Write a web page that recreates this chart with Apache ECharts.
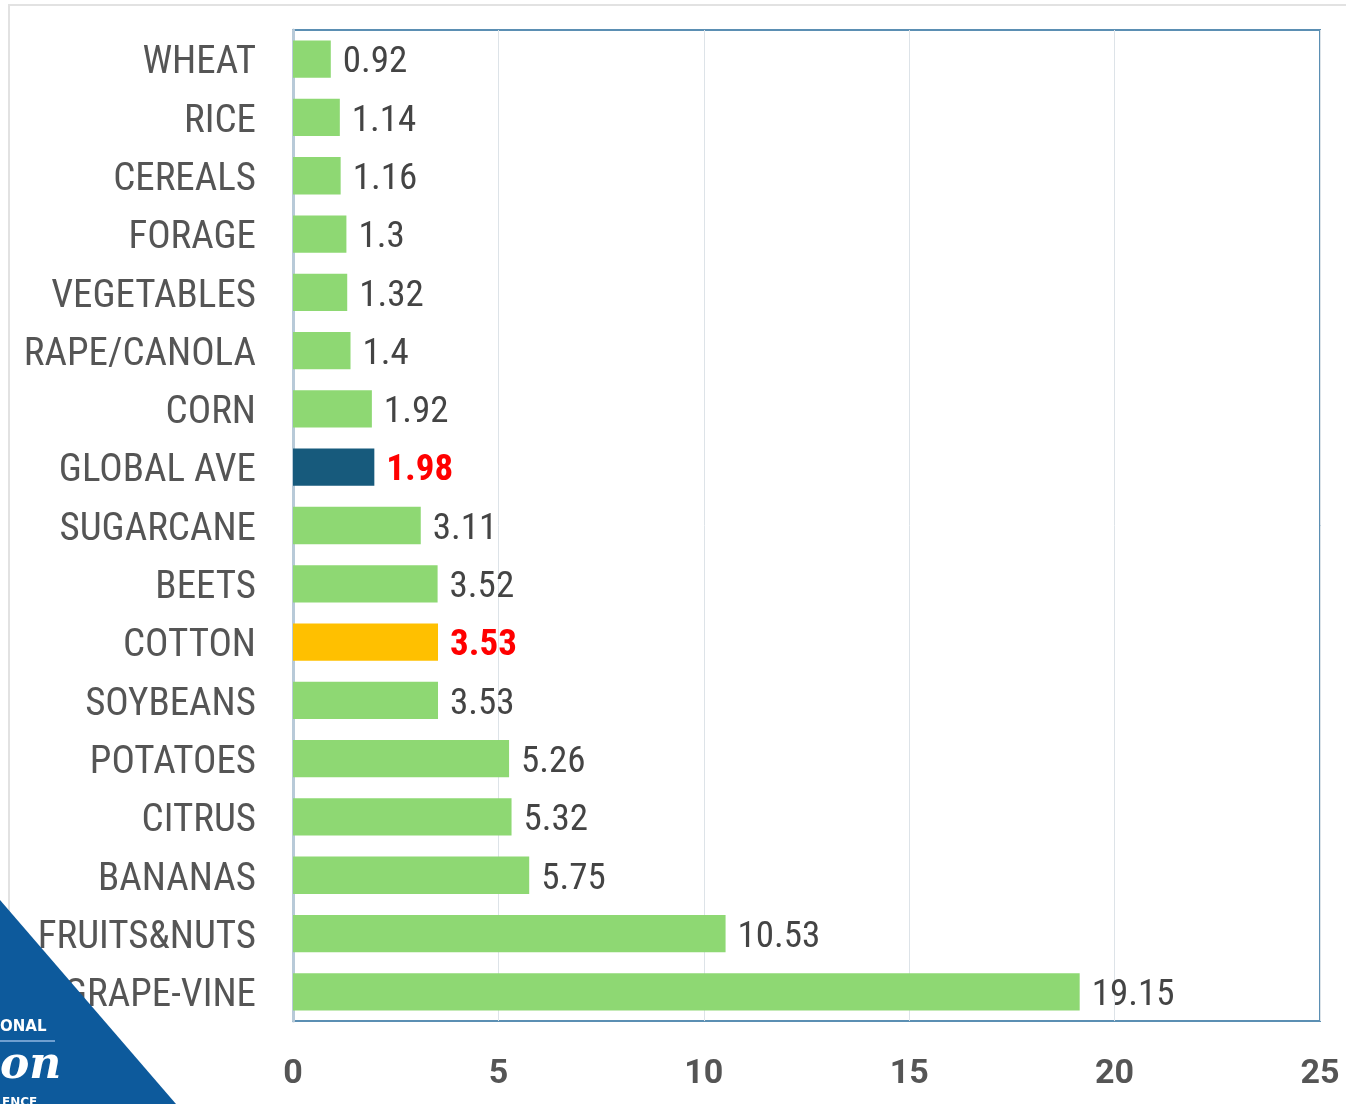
<!DOCTYPE html>
<html>
<head>
<meta charset="utf-8">
<style>
  html, body { margin: 0; padding: 0; background: #fff; }
  #chart { width: 1346px; height: 1104px; }
</style>
<script src="https://cdn.jsdelivr.net/npm/echarts@6/dist/echarts.min.js"></script>
</head>
<body>
<div id="chart"></div>
<script>
const crops = ['WHEAT', 'RICE', 'CEREALS', 'FORAGE', 'VEGETABLES', 'RAPE/CANOLA', 'CORN', 'GLOBAL AVE',
  'SUGARCANE', 'BEETS', 'COTTON', 'SOYBEANS', 'POTATOES', 'CITRUS', 'BANANAS', 'FRUITS&NUTS', 'GRAPE-VINE'];
const values = [0.92, 1.14, 1.16, 1.3, 1.32, 1.4, 1.92, 1.98, 3.11, 3.52, 3.53, 3.53, 5.26, 5.32, 5.75, 10.53, 19.15];
const xTicks = [0, 5, 10, 15, 20, 25];

const NARROW = '"Roboto Condensed", Roboto, sans-serif';
const highlight = {
  'GLOBAL AVE': '#175a7c',
  'COTTON': '#ffc000'
};

const chart = echarts.init(document.getElementById('chart'));

const barData = crops.map((name, i) => {
  const special = highlight[name];
  return {
    value: values[i],
    itemStyle: { color: special || '#8ed873' },
    label: special ? { color: '#ff0000', fontWeight: 'bold' } : {}
  };
});

chart.setOption({
  backgroundColor: '#fff',
  animation: false,
  grid: {
    left: 293, right: 26, top: 30, bottom: 83,
    outerBoundsMode: 'none',
    show: true, borderColor: '#5b8fb3', borderWidth: 2
  },
  xAxis: {
    type: 'value',
    min: xTicks[0],
    max: xTicks[xTicks.length - 1],
    interval: 5,
    axisLine: { show: false },
    axisTick: { show: false },
    splitLine: { lineStyle: { color: '#dde3e8', width: 1 } },
    axisLabel: {
      margin: 36,
      color: '#555',
      fontFamily: 'Roboto, sans-serif',
      fontWeight: 'bold',
      fontSize: 34,
      formatter: (v) => xTicks.includes(v) ? String(v) : ''
    }
  },
  yAxis: {
    type: 'category',
    data: crops,
    inverse: true,
    axisLine: { show: true, lineStyle: { color: '#b8cad8', width: 3 } },
    axisTick: { show: false },
    axisLabel: {
      margin: 37,
      formatter: (v) => `{c|${v}}`,
      rich: { c: { color: '#555', fontFamily: NARROW, fontSize: 39, padding: [9, 0, 0, 0] } }
    }
  },
  series: [{
    type: 'bar',
    data: barData,
    barCategoryGap: '36%',
    label: {
      show: true,
      position: 'right',
      distance: 12,
      offset: [0, 4],
      color: '#444',
      fontFamily: NARROW,
      fontSize: 37
    }
  }],
  graphic: [
    {
      type: 'rect',
      shape: { x: 9, y: 5, width: 1400, height: 1200 },
      style: { fill: 'none', stroke: '#e2e2e2', lineWidth: 2 },
      z: -1
    },
    {
      type: 'polygon',
      shape: { points: [[0, 900], [176, 1104], [0, 1104]] },
      style: { fill: '#0d5a9c' },
      z: 10
    },
    {
      type: 'text',
      left: 0, top: 1020,
      style: { text: 'ONAL', fill: '#fff', font: 'bold 15px "DejaVu Sans"' },
      z: 11
    },
    {
      type: 'rect',
      shape: { x: 0, y: 1040, width: 55, height: 2 },
      style: { fill: '#6f9fd0' },
      z: 11
    },
    {
      type: 'text',
      left: 0, top: 1045,
      style: { text: 'on', fill: '#fff', font: 'italic bold 44px "DejaVu Serif"' },
      z: 11
    },
    {
      type: 'text',
      left: 2, top: 1097,
      style: { text: 'ENCE', fill: '#fff', font: 'bold 12px "DejaVu Sans"' },
      z: 11
    }
  ]
});
</script>
</body>
</html>
